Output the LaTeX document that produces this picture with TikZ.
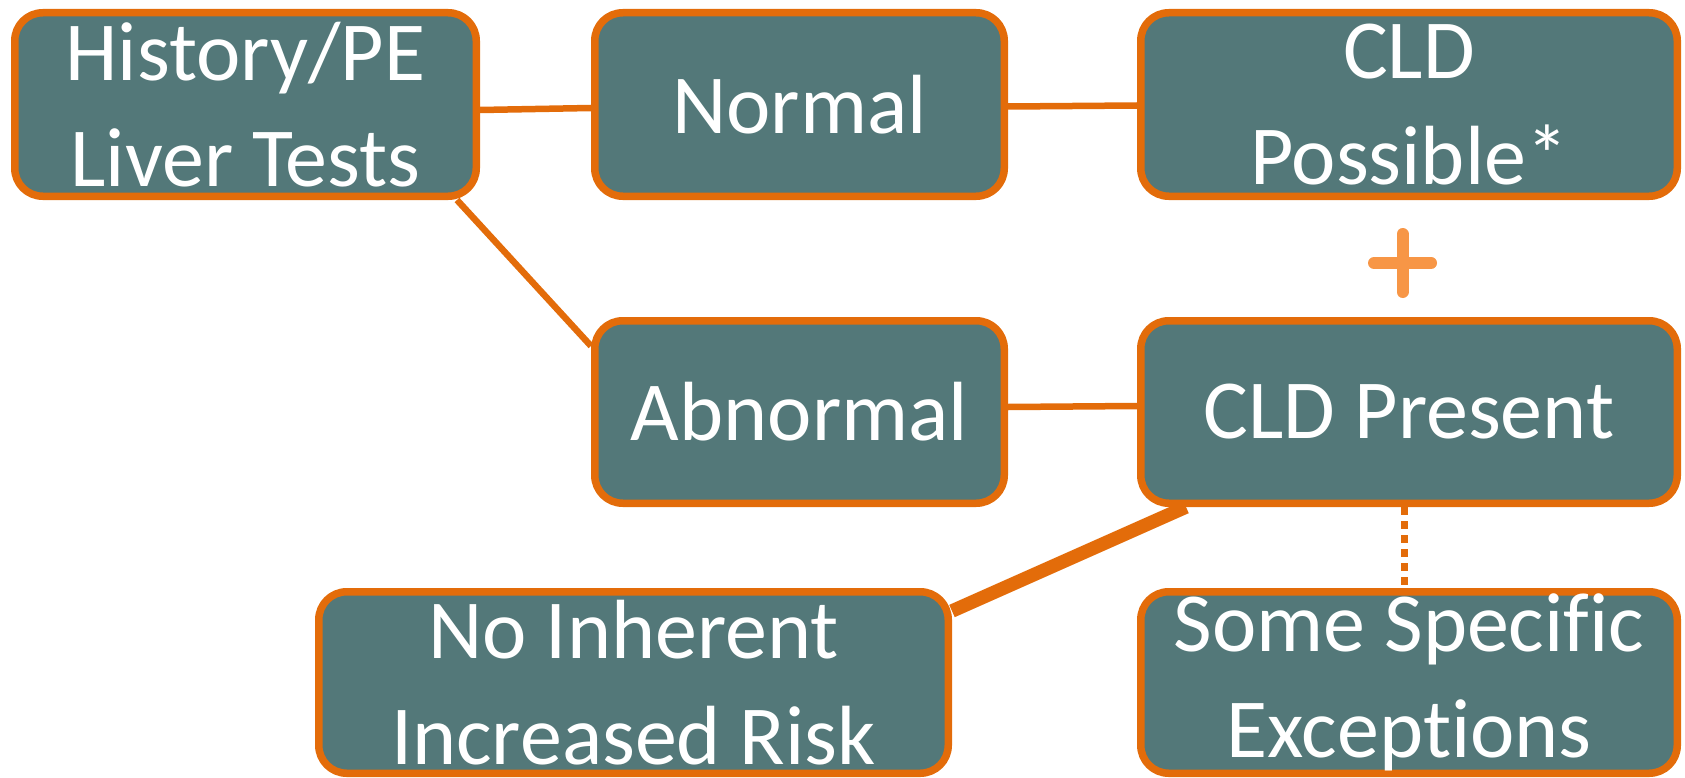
\documentclass[tikz,border=0pt]{standalone}
\usepackage{fontspec}
\setmainfont{Carlito}[Ligatures=NoCommon]
\usetikzlibrary{backgrounds,calc}
\definecolor{boxfill}{RGB}{83,120,121}
\definecolor{boxline}{RGB}{227,108,10}
\definecolor{plusc}{RGB}{247,150,70}
\begin{document}
\begin{tikzpicture}[x=1pt,y=-1pt,
  box/.style={draw=boxline, line width=7.5pt, fill=boxfill, rounded corners=28pt,
    text=white, font=\fontsize{84}{106}\selectfont, align=center, inner sep=0pt,
    minimum height=183.5pt},
  conn/.style={draw=boxline, line width=6.5pt},
  thickconn/.style={draw=boxline, line width=13.5pt},
  dotconn/.style={draw=boxline, line width=7pt, dash pattern=on 8pt off 6pt},
  plusmark/.style={draw=plusc, line width=12pt, line cap=round}]
\useasboundingbox (0,0) rectangle (1685,778);
\node[box, minimum width=461.5pt] (hist) at (245.5,104.5) {History/PE\\Liver Tests};
\node[box, minimum width=409.5pt] (norm) at (799.5,104.5) {Normal};
\node[box, minimum width=536.5pt] (poss) at (1409,104.5) {CLD\\Possible*};
\node[box, minimum width=409.5pt, minimum height=182.5pt] (abn) at (799.5,412) {Abnormal};
\node[box, minimum width=536.5pt, minimum height=182.5pt] (pres) at (1409,412) {CLD Present};
\node[box, minimum width=629.5pt, minimum height=181.5pt] (nori) at (633.5,682.5) {No Inherent\\Increased Risk};
\node[box, minimum width=536.5pt, minimum height=181.5pt] (exc) at (1409,682.5) {Some Specific\\Exceptions};
\begin{scope}[on background layer]
\draw[conn] ($(hist.east)+(0,5.5)$) -- ($(norm.west)+(0,3.5)$);
\draw[conn] ($(norm.east)+(0,2)$) -- ($(poss.west)+(0,1)$);
\draw[conn] ($(abn.east)+(0,-5)$) -- ($(pres.west)+(0,-6)$);
\draw[conn] ($(hist.south east)+(-23,0)$) -- ($(abn.north west)+(0,29)$);
\draw[thickconn] ($(pres.south west)+(49,0)$) -- ($(nori.north east)+(0,23)$);
\draw[dotconn] ($(pres.south)+(-5,0)$) -- ($(exc.north)+(-5,0)$);
\end{scope}
\draw[plusmark] (1402.5,234) -- (1402.5,292) (1374,263) -- (1431,263);
\end{tikzpicture}
\end{document}
